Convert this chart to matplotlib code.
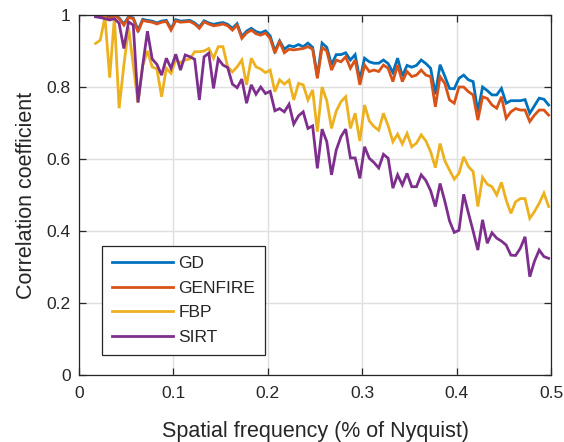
import numpy as np
import matplotlib
matplotlib.use("Agg")
import matplotlib.pyplot as plt

plt.rcParams['font.family'] = ['Liberation Sans', 'DejaVu Sans']

# spatial frequency grid (fraction of Nyquist)
freq = [round(0.0175 + 0.005 * i, 4) for i in range(97)]

gd = [1.0, 0.998, 0.997, 0.993, 1.0, 0.992, 0.975, 0.995, 0.992, 0.958,
      0.988, 0.985, 0.983, 0.978, 0.983, 0.985, 0.962, 0.987, 0.983, 0.984,
      0.985, 0.978, 0.967, 0.984, 0.978, 0.974, 0.977, 0.979, 0.974, 0.963,
      0.976, 0.94, 0.955, 0.963, 0.954, 0.95, 0.956, 0.942, 0.9, 0.928,
      0.905, 0.915, 0.912, 0.918, 0.912, 0.922, 0.91, 0.83, 0.922, 0.91,
      0.862, 0.89, 0.89, 0.895, 0.875, 0.89, 0.82, 0.88, 0.87, 0.866,
      0.866, 0.875, 0.865, 0.84, 0.88, 0.83, 0.86, 0.855, 0.86, 0.875,
      0.865, 0.852, 0.78, 0.862, 0.83, 0.796, 0.795, 0.824, 0.833, 0.82,
      0.815, 0.731, 0.8, 0.79, 0.778, 0.778, 0.796, 0.755, 0.762, 0.762,
      0.762, 0.765, 0.727, 0.748, 0.769, 0.766, 0.75]

genfire = [1.0, 0.995, 0.995, 0.99, 1.0, 0.99, 0.972, 0.993, 0.99, 0.953,
           0.985, 0.982, 0.98, 0.975, 0.98, 0.982, 0.958, 0.984, 0.98, 0.981,
           0.982, 0.975, 0.963, 0.981, 0.975, 0.97, 0.972, 0.975, 0.97, 0.958,
           0.972, 0.935, 0.95, 0.958, 0.948, 0.944, 0.95, 0.935, 0.894, 0.926,
           0.895, 0.905, 0.903, 0.905, 0.907, 0.912, 0.905, 0.824, 0.91, 0.9,
           0.847, 0.875, 0.87, 0.884, 0.852, 0.875, 0.806, 0.861, 0.843, 0.847,
           0.843, 0.861, 0.852, 0.815, 0.861, 0.815, 0.843, 0.829, 0.833, 0.847,
           0.833, 0.829, 0.745, 0.829, 0.81, 0.764, 0.755, 0.8, 0.8, 0.787,
           0.778, 0.708, 0.773, 0.768, 0.75, 0.741, 0.773, 0.713, 0.731, 0.74,
           0.736, 0.736, 0.704, 0.722, 0.736, 0.736, 0.722]

fbp = [0.921, 0.93, 0.995, 0.826, 0.993, 0.741, 0.86, 0.965, 0.86, 0.757,
       0.86, 0.9, 0.856, 0.85, 0.773, 0.852, 0.838, 0.875, 0.868, 0.875,
       0.878, 0.898, 0.898, 0.9, 0.907, 0.88, 0.912, 0.912, 0.856, 0.842,
       0.856, 0.875, 0.806, 0.88, 0.856, 0.85, 0.84, 0.847, 0.787, 0.82,
       0.808, 0.819, 0.764, 0.81, 0.806, 0.764, 0.792, 0.676, 0.8, 0.762,
       0.685, 0.733, 0.759, 0.773, 0.685, 0.727, 0.65, 0.75, 0.706, 0.69,
       0.68, 0.727, 0.692, 0.648, 0.669, 0.642, 0.671, 0.634, 0.644, 0.667,
       0.65, 0.62, 0.576, 0.643, 0.595, 0.569, 0.544, 0.56, 0.606, 0.579,
       0.565, 0.468, 0.549, 0.53, 0.523, 0.5, 0.535, 0.486, 0.449, 0.481,
       0.49, 0.49, 0.435, 0.454, 0.477, 0.505, 0.468]

sirt = [0.995, 0.993, 0.99, 0.986, 0.99, 0.977, 0.907, 0.981, 0.972, 0.757,
        0.86, 0.955, 0.878, 0.863, 0.833, 0.88, 0.852, 0.891, 0.847, 0.889,
        0.884, 0.877, 0.764, 0.884, 0.894, 0.796, 0.878, 0.861, 0.854, 0.808,
        0.798, 0.822, 0.755, 0.806, 0.78, 0.8, 0.782, 0.788, 0.734, 0.74,
        0.731, 0.752, 0.697, 0.72, 0.731, 0.685, 0.692, 0.574, 0.683, 0.648,
        0.556, 0.625, 0.662, 0.683, 0.603, 0.603, 0.546, 0.634, 0.602, 0.59,
        0.575, 0.613, 0.602, 0.519, 0.556, 0.528, 0.56, 0.523, 0.523, 0.556,
        0.54, 0.512, 0.468, 0.532, 0.483, 0.428, 0.396, 0.402, 0.502, 0.45,
        0.4, 0.347, 0.431, 0.366, 0.395, 0.38, 0.372, 0.361, 0.333, 0.332,
        0.352, 0.384, 0.273, 0.316, 0.347, 0.329, 0.324]

labels = ['GD', 'GENFIRE', 'FBP', 'SIRT']
colors = ['#0072BD', '#D95319', '#EDB120', '#7E2F8E']

xticks = [0, 0.1, 0.2, 0.3, 0.4, 0.5]
xticklabels = ['0', '0.1', '0.2', '0.3', '0.4', '0.5']
yticks = [0, 0.2, 0.4, 0.6, 0.8, 1.0]
yticklabels = ['0', '0.2', '0.4', '0.6', '0.8', '1']

fig = plt.figure(figsize=(5.64, 4.42), dpi=100)
ax = fig.add_axes([79 / 564, 1 - 375 / 442, 472 / 564, 360 / 442])

for series, lab, col in zip([gd, genfire, fbp, sirt], labels, colors):
    ax.plot(freq, series, color=col, lw=2.0, label=lab, solid_joinstyle='miter')

ax.set_xlim(0, 0.5)
ax.set_ylim(0, 1)
ax.set_xticks(xticks)
ax.set_xticklabels(xticklabels)
ax.set_yticks(yticks)
ax.set_yticklabels(yticklabels)
ax.grid(True, color='#dfdfdf', lw=1.0)
ax.set_axisbelow(True)
dark = '#262626'
for s in ax.spines.values():
    s.set_color(dark)
    s.set_linewidth(0.9)
ax.tick_params(direction='in', top=True, right=True, length=5, width=0.9,
               colors=dark, labelsize=12.5, pad=6)
ax.tick_params(axis='x', pad=8)
ax.set_xlabel('Spatial frequency (% of Nyquist)', fontsize=15.5, color=dark, labelpad=14)
ax.set_ylabel('Correlation coefficient', fontsize=15.5, color=dark, labelpad=7)

leg = ax.legend(loc='upper left', bbox_to_anchor=((102 - 79) / 472, (375 - 246) / 360),
                borderaxespad=0, fancybox=False, framealpha=1, edgecolor=dark,
                fontsize=12.5, handlelength=3.55, handletextpad=0.3, labelspacing=0.56,
                borderpad=0.55)
leg.get_frame().set_linewidth(0.9)
for t in leg.get_texts():
    t.set_color(dark)

fig.savefig('out.png', dpi=100)
